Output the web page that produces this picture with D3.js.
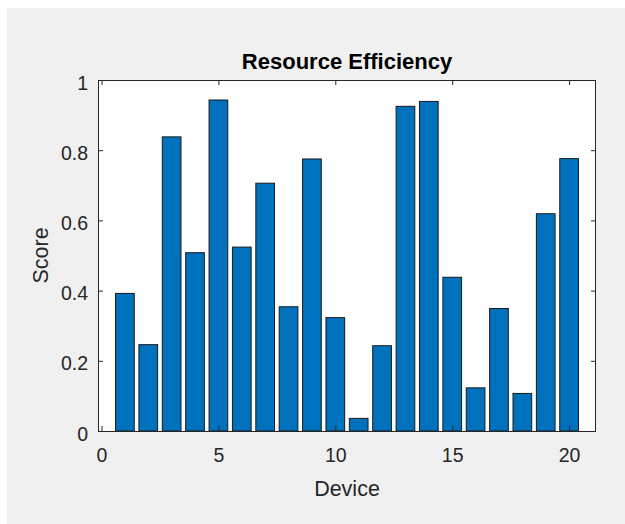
<!DOCTYPE html>
<html>
<head>
<meta charset="utf-8">
<script src="https://cdn.jsdelivr.net/npm/d3@7"></script>
<style>
  html, body { margin: 0; padding: 0; background: #ffffff; }
  svg { display: block; }
  text { font-family: "Liberation Sans", Arial, Helvetica, sans-serif; }
</style>
</head>
<body>
<svg id="chart" width="625" height="524"></svg>
<script>
const devices = d3.range(1, 21);
const scores = [0.392, 0.246, 0.838, 0.508, 0.943, 0.524, 0.706, 0.354, 0.775, 0.323,
                0.036, 0.243, 0.925, 0.939, 0.438, 0.123, 0.349, 0.107, 0.619, 0.776];
const xTicks = [0, 5, 10, 15, 20];
const yTicks = [0, 0.2, 0.4, 0.6, 0.8, 1];
const titleText = "Resource Efficiency";
const xLabel = "Device";
const yLabel = "Score";

const svg = d3.select("#chart");
const W = 625, H = 524;
const m = { left: 98, right: 596, top: 80, bottom: 431 };

svg.append("rect").attr("width", W).attr("height", H).attr("fill", "#ffffff");
svg.append("rect").attr("x", 7).attr("y", 8).attr("width", W - 7).attr("height", H - 8).attr("fill", "#f0f0f0");

const x = d3.scaleLinear().domain([-0.15, 21.15]).range([m.left, m.right]);
const y = d3.scaleLinear().domain([0, 1]).range([m.bottom, m.top]);
const barW = 0.8;
const axisColor = "#262626";

// plot background
svg.append("rect")
  .attr("x", m.left).attr("y", m.top)
  .attr("width", m.right - m.left).attr("height", m.bottom - m.top)
  .attr("fill", "#ffffff");

// bars
svg.append("g").selectAll("rect").data(devices).join("rect")
  .attr("x", (d) => x(d - barW / 2))
  .attr("y", (d, i) => y(scores[i]))
  .attr("width", (d) => x(d + barW / 2) - x(d - barW / 2))
  .attr("height", (d, i) => y(0) - y(scores[i]))
  .attr("fill", "#0072BD")
  .attr("stroke", "#1a1a1a")
  .attr("stroke-width", 1);

const tickLen = 5;
const fs = 19.5;

const xb = d3.axisBottom(x).tickValues(xTicks).tickSize(-tickLen).tickPadding(0).tickFormat(d3.format("d"));
const gxb = svg.append("g").attr("transform", `translate(0,${m.bottom})`).call(xb);
const xt = d3.axisTop(x).tickValues(xTicks).tickSize(-tickLen).tickFormat("");
const gxt = svg.append("g").attr("transform", `translate(0,${m.top})`).call(xt);
const yl = d3.axisLeft(y).tickValues(yTicks).tickSize(-tickLen).tickPadding(0).tickFormat(d3.format("~g"));
const gyl = svg.append("g").attr("transform", `translate(${m.left},0)`).call(yl);
const yr = d3.axisRight(y).tickValues(yTicks).tickSize(-tickLen).tickFormat("");
const gyr = svg.append("g").attr("transform", `translate(${m.right},0)`).call(yr);

[gxb, gxt, gyl, gyr].forEach(g => {
  g.select(".domain").remove();
  g.selectAll(".tick line").attr("stroke", axisColor).attr("stroke-width", 1);
});

gxb.selectAll(".tick text")
  .attr("y", 31).attr("dy", null)
  .attr("fill", axisColor)
  .style("font-size", fs + "px");
gyl.selectAll(".tick text")
  .attr("x", -10).attr("dy", "0.36em")
  .attr("fill", axisColor)
  .attr("transform", "translate(0,2)")
  .style("font-size", fs + "px");

// box
svg.append("rect")
  .attr("x", m.left + 0.5).attr("y", m.top + 0.5)
  .attr("width", m.right - m.left - 1).attr("height", m.bottom - m.top)
  .attr("fill", "none").attr("stroke", axisColor).attr("stroke-width", 1);

// title
svg.append("text")
  .attr("x", (m.left + m.right) / 2).attr("y", 68.5)
  .attr("text-anchor", "middle")
  .attr("font-weight", "bold")
  .attr("fill", "#000")
  .style("font-size", "22px")
  .text(titleText);

// x label
svg.append("text")
  .attr("x", (m.left + m.right) / 2).attr("y", 495.5)
  .attr("text-anchor", "middle")
  .attr("fill", axisColor)
  .style("font-size", "21.5px")
  .text(xLabel);

// y label
svg.append("text")
  .attr("transform", `translate(47.5,${(m.top + m.bottom) / 2}) rotate(-90)`)
  .attr("text-anchor", "middle")
  .attr("fill", axisColor)
  .style("font-size", "21.5px")
  .text(yLabel);
</script>
</body>
</html>
